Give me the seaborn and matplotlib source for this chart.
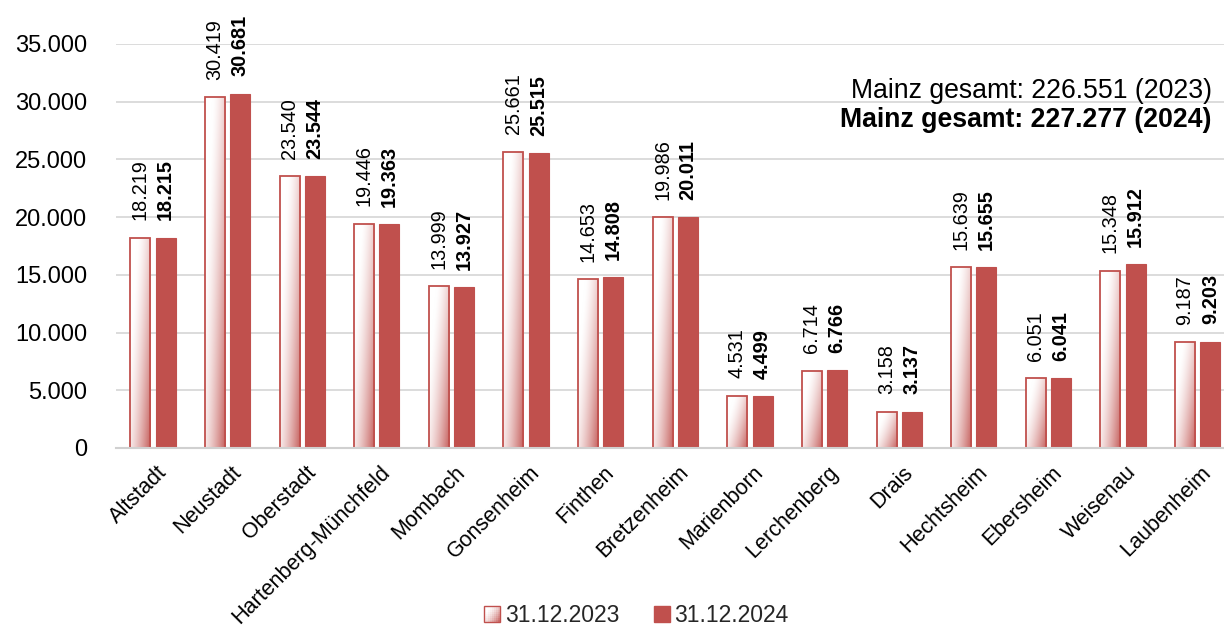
import numpy as np
import pandas as pd
import matplotlib
matplotlib.use("Agg")
import matplotlib.pyplot as plt
import seaborn as sns
from matplotlib.patches import Rectangle
from matplotlib.legend_handler import HandlerPatch
from matplotlib.colors import to_rgb
import matplotlib.transforms as mtransforms

districts = ["Altstadt", "Neustadt", "Oberstadt", "Hartenberg-Münchfeld", "Mombach",
             "Gonsenheim", "Finthen", "Bretzenheim", "Marienborn", "Lerchenberg",
             "Drais", "Hechtsheim", "Ebersheim", "Weisenau", "Laubenheim"]
pop_2023 = [18219, 30419, 23540, 19446, 13999, 25661, 14653, 19986, 4531, 6714,
            3158, 15639, 6051, 15348, 9187]
pop_2024 = [18215, 30681, 23544, 19363, 13927, 25515, 14808, 20011, 4499, 6766,
            3137, 15655, 6041, 15912, 9203]
series = ["31.12.2023", "31.12.2024"]
yticks = [0, 5000, 10000, 15000, 20000, 25000, 30000, 35000]
total_2023 = 226551
total_2024 = 227277

RED = "#c0504d"


def de(v):
    return f"{v:,}".replace(",", ".")


def gradient_image(n=96):
    xs = np.linspace(0, 1, n)
    ys = np.linspace(0, 1, n)
    X, Y = np.meshgrid(xs, ys)
    t = np.clip(X * 0.7 + (1 - Y) * 0.5 - 0.25, 0, 1) ** 1.5
    white = np.array([1.0, 1.0, 1.0])
    red = np.array(to_rgb(RED))
    img = white[None, None, :] * (1 - t[..., None]) + red[None, None, :] * t[..., None]
    return img


GRAD = gradient_image()

df = pd.DataFrame({
    "Stadtteil": districts * 2,
    "Wert": pop_2023 + pop_2024,
    "Serie": [series[0]] * len(districts) + [series[1]] * len(districts),
})

sns.set_theme(style="white")
plt.rcParams["font.family"] = ["Liberation Sans", "DejaVu Sans"]

fig = plt.figure(figsize=(12.24, 6.27), dpi=100)
ax = fig.add_axes([115.7 / 1224, 1 - 448 / 627, (1235 - 115.7) / 1224, (448 - 44) / 627])

sns.barplot(data=df, x="Stadtteil", y="Wert", hue="Serie", order=districts,
            hue_order=series, palette=["white", RED], width=0.676, gap=0.207,
            ax=ax, legend=False, saturation=1)

ax.set_ylim(0, 35000)
ax.set_xlim(-0.5, len(districts) - 0.5)
ax.set_yticks(yticks)
ax.set_yticklabels([de(v) for v in yticks], fontsize=17, color="#000000")
ax.yaxis.grid(True, color="#d9d9d9", linewidth=1.3)
ax.set_axisbelow(True)
for s in ["top", "right", "left"]:
    ax.spines[s].set_visible(False)
ax.spines["bottom"].set_color("#d0d0d0")
ax.spines["bottom"].set_linewidth(1.5)
ax.tick_params(axis="y", length=0, pad=20.5)
ax.tick_params(axis="x", length=0, pad=10)
ax.set_xlabel("")
ax.set_ylabel("")
shift = mtransforms.ScaledTranslation(3 / 100, 0, fig.dpi_scale_trans)
for lbl in ax.get_xticklabels():
    lbl.set_rotation(45)
    lbl.set_ha("right")
    lbl.set_va("top")
    lbl.set_rotation_mode("anchor")
    lbl.set_fontsize(15.5)
    lbl.set_color("#000000")
    lbl.set_transform(lbl.get_transform() + shift)

n = len(districts)
bars = ax.patches
bars_2023 = list(bars[:n])
bars_2024 = list(bars[n:])

for b in bars_2023:
    x0, y0 = b.get_x(), b.get_y()
    w, h = b.get_width(), b.get_height()
    b.set_edgecolor("none")
    im = ax.imshow(GRAD, extent=[x0, x0 + w, y0, y0 + h], aspect="auto",
                   origin="lower", interpolation="bilinear",
                   zorder=b.get_zorder() + 0.01)
    im.set_clip_path(b)
    edge = Rectangle((x0, y0), w, h, facecolor="none", edgecolor=RED,
                     linewidth=1.3, zorder=b.get_zorder() + 0.02)
    ax.add_patch(edge)
for b in bars_2024:
    b.set_edgecolor(RED)
    b.set_linewidth(0.8)

ax.set_xlim(-0.5, len(districts) - 0.5)
ax.set_ylim(0, 35000)

for b, v in zip(bars_2023, pop_2023):
    ax.annotate(de(v), (b.get_x() + b.get_width() / 2, v), xytext=(0, 12.5),
                textcoords="offset points", rotation=90, ha="center", va="bottom",
                fontsize=14.3, color="#000000", annotation_clip=False)
for b, v in zip(bars_2024, pop_2024):
    ax.annotate(de(v), (b.get_x() + b.get_width() / 2, v), xytext=(0, 12.5),
                textcoords="offset points", rotation=90, ha="center", va="bottom",
                fontsize=14.3, fontweight="bold", color="#000000",
                annotation_clip=False)

fig.text(1212 / 1224, 1 - 98 / 627, f"Mainz gesamt: {de(total_2023)} (2023)",
         ha="right", va="baseline", fontsize=19.2, color="#000000")
fig.text(1212 / 1224, 1 - 127 / 627, f"Mainz gesamt: {de(total_2024)} (2024)",
         ha="right", va="baseline", fontsize=19.2, fontweight="bold", color="#000000")


class GradHandler(HandlerPatch):
    def create_artists(self, legend, orig_handle, xdescent, ydescent, width,
                       height, fontsize, trans):
        size = min(width, height)
        x = xdescent + width - size
        y = -ydescent
        artists = []
        k = 8
        for i in range(k):
            for j in range(k):
                c = GRAD[int((j + 0.5) / k * GRAD.shape[0]), int((i + 0.5) / k * GRAD.shape[1])]
                artists.append(Rectangle((x + i * size / k, y + j * size / k),
                                         size / k, size / k, facecolor=c,
                                         edgecolor="none", transform=trans))
        artists.append(Rectangle((x, y), size, size, facecolor="none",
                                 edgecolor=RED, linewidth=1.0, transform=trans))
        return artists


h1 = Rectangle((0, 0), 1, 1, facecolor="white", edgecolor=RED)
h2 = Rectangle((0, 0), 1, 1, facecolor=RED, edgecolor=RED)
fig.legend([h1, h2], series, loc="lower center", bbox_to_anchor=(0.52, -0.033),
           ncol=2, frameon=False, fontsize=16.5, handlelength=0.7, handleheight=0.7,
           handletextpad=0.2, columnspacing=1.5,
           handler_map={h1: GradHandler()})

fig.savefig("out.png", dpi=100)
